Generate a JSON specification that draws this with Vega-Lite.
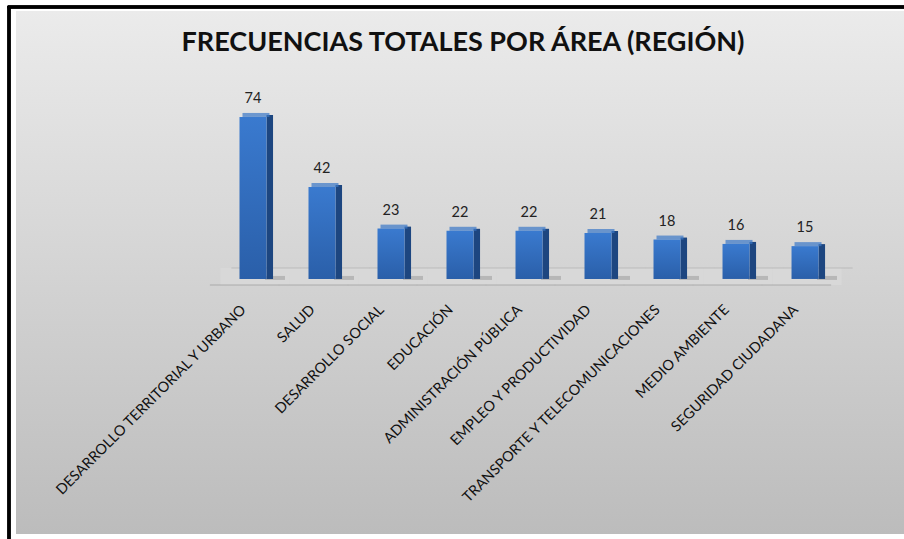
{
  "$schema": "https://vega.github.io/schema/vega-lite/v6.json",
  "width": 888,
  "height": 523,
  "autosize": {"type": "none"},
  "padding": {"left": 16, "top": 11, "right": 0, "bottom": 5},
  "background": "white",
  "config": {"view": {"stroke": null}},
  "title": {
    "text": "FRECUENCIAS TOTALES POR ÁREA (REGIÓN)",
    "font": "Lato",
    "fontSize": 27,
    "fontWeight": "bold",
    "color": "#111111",
    "anchor": "middle",
    "frame": "group",
    "baseline": "alphabetic",
    "offset": 0,
    "dy": 73,
    "dx": 3
  },
  "data": {
    "values": [
      {"area": "DESARROLLO TERRITORIAL Y URBANO", "freq": 74},
      {"area": "SALUD", "freq": 42},
      {"area": "DESARROLLO SOCIAL", "freq": 23},
      {"area": "EDUCACIÓN", "freq": 22},
      {"area": "ADMINISTRACIÓN PÚBLICA", "freq": 22},
      {"area": "EMPLEO Y PRODUCTIVIDAD", "freq": 21},
      {"area": "TRANSPORTE Y TELECOMUNICACIONES", "freq": 18},
      {"area": "MEDIO AMBIENTE", "freq": 16},
      {"area": "SEGURIDAD CIUDADANA", "freq": 15}
    ]
  },
  "layer": [
    {
      "mark": {
        "type": "rect",
        "color": {
          "gradient": "linear", "x1": 0, "y1": 0, "x2": 0, "y2": 1,
          "stops": [{"offset": 0, "color": "#ebebeb"}, {"offset": 1, "color": "#bcbcbc"}]
        }
      },
      "encoding": {
        "x": {"value": 0}, "x2": {"value": "width"},
        "y": {"value": 0}, "y2": {"value": "height"}
      }
    },
    {
      "mark": {"type": "rule", "color": "#000000", "strokeWidth": 2.5},
      "encoding": {"x": {"value": -7}, "y": {"value": -5}, "y2": {"value": 528}}
    },
    {
      "mark": {"type": "rule", "color": "#000000", "strokeWidth": 2.5},
      "encoding": {"y": {"value": -4}, "x": {"value": -8.2}, "x2": {"value": "width"}}
    },
    {
      "mark": {"type": "tick", "color": "#dadada", "size": 69.2, "thickness": 17, "xOffset": 2},
      "encoding": {
        "x": {"field": "area", "type": "nominal", "sort": null,
              "scale": {"type": "band", "range": [223.5, 802.5], "paddingInner": 0.609, "paddingOuter": 0},
              "axis": null},
        "y": {"datum": 1.145, "type": "quantitative",
              "scale": {"domain": [-116.5, 122.4], "nice": false, "zero": false}, "axis": null}
      }
    },
    {
      "mark": {"type": "tick", "color": "#9a9a9a", "size": 69.2, "thickness": 1, "xOffset": -8.5},
      "encoding": {
        "x": {"field": "area", "type": "nominal", "sort": null},
        "y": {"datum": -2.74, "type": "quantitative"}
      }
    },
    {
      "mark": {"type": "tick", "color": "#b0b0b0", "size": 69.2, "thickness": 1, "xOffset": 13},
      "encoding": {
        "x": {"field": "area", "type": "nominal", "sort": null},
        "y": {"datum": 5.03, "type": "quantitative"}
      }
    },
    {
      "mark": {"type": "tick", "color": "#444444", "opacity": 0.22, "size": 20, "thickness": 4, "xOffset": 22, "yOffset": -1},
      "encoding": {
        "x": {"field": "area", "type": "nominal", "sort": null},
        "y": {"datum": 0, "type": "quantitative"}
      }
    },
    {
      "mark": {"type": "bar", "width": 6.5, "xOffset": 16.8, "yOffset": -2, "color": "#1d4680"},
      "encoding": {
        "x": {"field": "area", "type": "nominal", "sort": null},
        "y": {"field": "freq", "type": "quantitative"},
        "y2": {"datum": 0}
      }
    },
    {
      "mark": {"type": "tick", "size": 27, "thickness": 4, "xOffset": 3, "yOffset": -2, "color": "#3b78c8"},
      "encoding": {
        "x": {"field": "area", "type": "nominal", "sort": null},
        "y": {"field": "freq", "type": "quantitative"}
      }
    },
    {
      "mark": {
        "type": "bar",
        "color": {
          "gradient": "linear", "x1": 0, "y1": 0, "x2": 0, "y2": 1,
          "stops": [{"offset": 0, "color": "#3a7acf"}, {"offset": 1, "color": "#2a5fa9"}]
        }
      },
      "encoding": {
        "x": {"field": "area", "type": "nominal", "sort": null},
        "y": {"field": "freq", "type": "quantitative"},
        "y2": {"datum": 0}
      }
    },
    {
      "mark": {"type": "text", "dy": -14, "baseline": "alphabetic", "align": "center", "font": "Lato", "fontSize": 14.5, "color": "#222222"},
      "encoding": {
        "x": {"field": "area", "type": "nominal", "sort": null},
        "y": {"field": "freq", "type": "quantitative"},
        "text": {"field": "freq", "type": "quantitative"}
      }
    },
    {
      "mark": {"type": "text", "angle": 315, "align": "right", "baseline": "middle", "xOffset": -9, "font": "Lato", "fontSize": 14.5, "color": "#111111"},
      "encoding": {
        "x": {"field": "area", "type": "nominal", "sort": null},
        "y": {"datum": -13.2, "type": "quantitative"},
        "text": {"field": "area", "type": "nominal"}
      }
    }
  ]
}
